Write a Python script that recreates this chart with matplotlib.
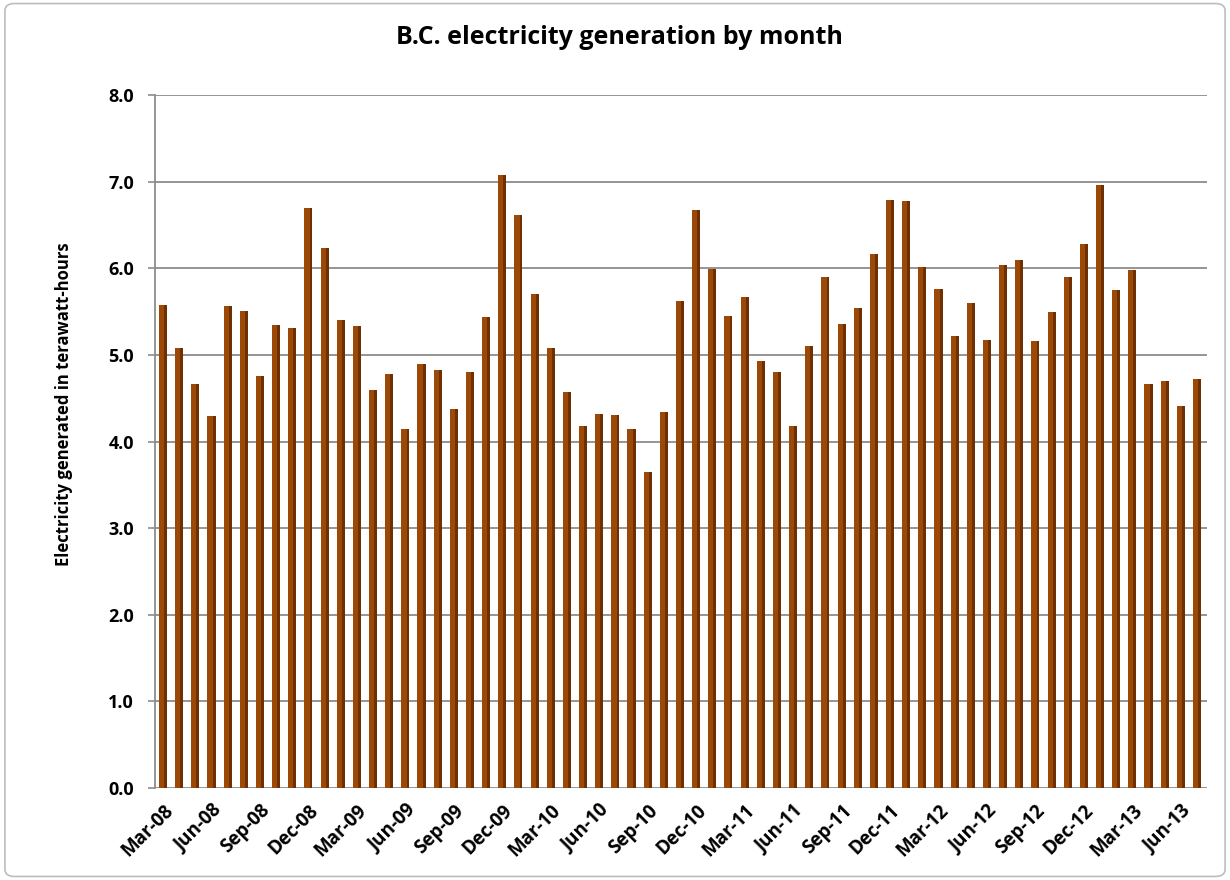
import numpy as np
import matplotlib.pyplot as plt
from matplotlib.patches import FancyBboxPatch

plt.rcParams['font.family'] = ['Open Sans', 'DejaVu Sans']

# monthly generation, Mar-08 .. Jul-13 (TWh)
Generation = [5.58, 5.08, 4.66, 4.29, 5.56, 5.51, 4.76, 5.35, 5.31, 6.70,
              6.23, 5.40, 5.33, 4.59, 4.78, 4.14, 4.90, 4.83, 4.37, 4.80,
              5.44, 7.08, 6.62, 5.70, 5.08, 4.57, 4.18, 4.32, 4.31, 4.14,
              3.65, 4.34, 5.62, 6.67, 5.99, 5.45, 5.67, 4.93, 4.80, 4.18,
              5.10, 5.90, 5.36, 5.54, 6.17, 6.79, 6.78, 6.02, 5.76, 5.22,
              5.60, 5.17, 6.04, 6.09, 5.16, 5.50, 5.90, 6.28, 6.96, 5.75,
              5.98, 4.67, 4.70, 4.41, 4.72]
Tick_labels = ["Mar-08", "Jun-08", "Sep-08", "Dec-08", "Mar-09", "Jun-09",
               "Sep-09", "Dec-09", "Mar-10", "Jun-10", "Sep-10", "Dec-10",
               "Mar-11", "Jun-11", "Sep-11", "Dec-11", "Mar-12", "Jun-12",
               "Sep-12", "Dec-12", "Mar-13", "Jun-13"]
Y_ticks = [0.0, 1.0, 2.0, 3.0, 4.0, 5.0, 6.0, 7.0, 8.0]

x = np.arange(len(Generation))

fig = plt.figure(figsize=(12.3, 8.8), dpi=100)
ax = fig.add_axes([0.126, 0.1045, 0.855, 0.7875])

# gridlines
for y in Y_ticks:
    ax.axhline(y, color='#8c8c8c', lw=1.3, zorder=0)

# bars with a darker right side for the 3D look
ax.bar(x, Generation, width=0.5, color='#9c4908', zorder=2)
ax.bar(x + 0.16, Generation, width=0.18, color='#6e3002', zorder=3)

ax.set_xlim(-0.5, 64.6)
ax.set_ylim(0, 8)
ax.set_yticks(Y_ticks)
ax.set_yticklabels([f"{v:.1f}" for v in Y_ticks], fontsize=13, fontweight='bold')
ax.set_xticks(x[::3])
ax.set_xticklabels(Tick_labels, rotation=45, ha='right', rotation_mode='anchor',
                   fontsize=13.5, fontweight='bold')
ax.tick_params(axis='y', length=5, color='#8c8c8c', width=1.2, pad=10)
ax.tick_params(axis='x', length=0, pad=9)

for side in ['top', 'right', 'bottom']:
    ax.spines[side].set_visible(False)
ax.spines['left'].set_color('#8c8c8c')
ax.spines['left'].set_linewidth(1.3)

ax.set_ylabel("Electricity generated in terawatt-hours", fontsize=12,
              fontweight='bold')
ax.yaxis.set_label_coords(-0.078, 0.554)
fig.text(0.504, 0.957, "B.C. electricity generation by month", ha='center',
         va='center', fontsize=18, fontweight='bold')

# outer frame
frame = FancyBboxPatch((0.004, 0.004), 0.992, 0.992, boxstyle="round,pad=0,rounding_size=0.008",
                       transform=fig.transFigure, fill=False, edgecolor='#bdbdbd', lw=1.2)
fig.patches.append(frame)

plt.savefig("out.png", dpi=100)
